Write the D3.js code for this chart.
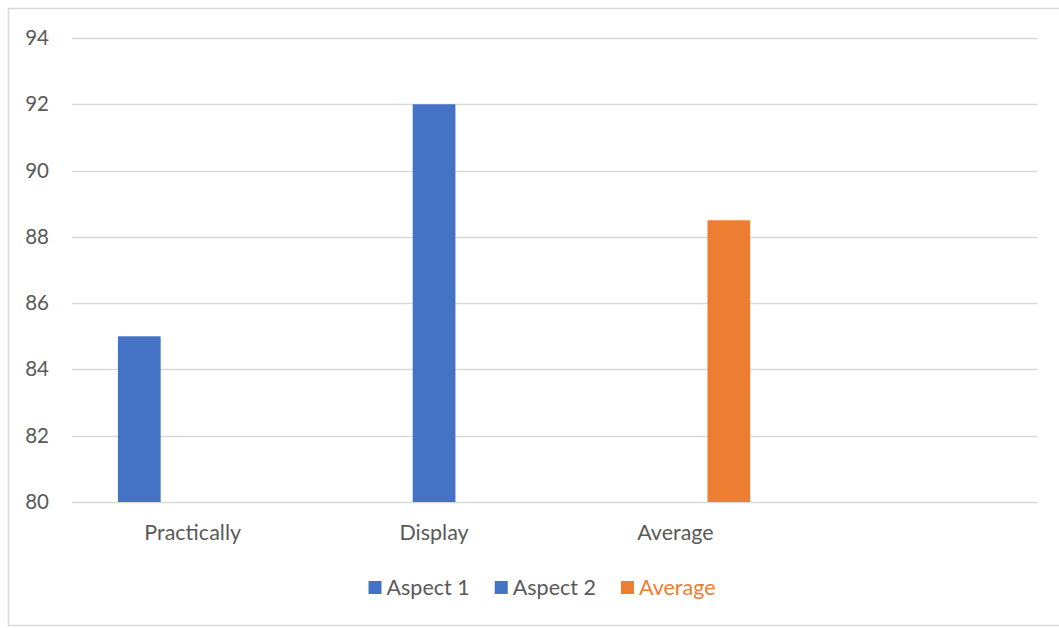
<!DOCTYPE html>
<html>
<head>
<meta charset="utf-8">
<script src="https://cdn.jsdelivr.net/npm/d3@7"></script>
<style>
  html, body { margin: 0; padding: 0; background: #ffffff; }
  svg { display: block; }
  text { font-family: Lato, "Open Sans", sans-serif; }
</style>
</head>
<body>
<svg id="chart" width="1059" height="628"></svg>
<script>
// Categories on the x axis (the last slot is an empty category)
const categories = ["Practically", "Display", "Average", ""];
// Series values, one per category (null = no bar)
const aspect1 = [85, null, null, null];
const aspect2 = [null, 92, null, null];
const average = [null, null, 88.5, null];
const seriesNames = ["Aspect 1", "Aspect 2", "Average"];
const seriesColors = ["#4472C4", "#4472C4", "#ED7D31"];
const legendTextColors = ["#595959", "#595959", "#ED7D31"];
const yTicks = [80, 82, 84, 86, 88, 90, 92, 94];

const series = [aspect1, aspect2, average];

const svg = d3.select("#chart");
const W = 1059, H = 628;
const plot = { left: 72, right: 1037.5, top: 38, bottom: 502 };
const labelSize = "21.5px";

// Chart area frame
svg.append("rect")
  .attr("x", 8.5).attr("y", 8.5)
  .attr("width", W + 10).attr("height", 617)
  .attr("fill", "#ffffff")
  .attr("stroke", "#D9D9D9").attr("stroke-width", 1.5);

const x0 = d3.scaleBand()
  .domain(categories.map((c, i) => i))
  .range([plot.left, plot.right])
  .paddingInner(0).paddingOuter(0);

const y = d3.scaleLinear()
  .domain([80, 94])
  .range([plot.bottom, plot.top]);

// Gridlines
svg.append("g")
  .selectAll("line")
  .data(yTicks)
  .join("line")
  .attr("x1", plot.left).attr("x2", plot.right)
  .attr("y1", d => Math.round(y(d)) + 0.5)
  .attr("y2", d => Math.round(y(d)) + 0.5)
  .attr("stroke", "#D9D9D9").attr("stroke-width", 1.3);

// Y axis labels
const yAxis = d3.axisLeft(y).tickValues(yTicks).tickSize(0).tickPadding(0);
const yg = svg.append("g")
  .attr("transform", `translate(${49},0)`)
  .call(yAxis);
yg.select(".domain").remove();
yg.selectAll("text")
  .attr("fill", "#595959")
  .attr("font-size", "20.5px")
  .attr("font-family", "Lato, 'Open Sans', sans-serif");

// Clustered bar layout: gap width and negative overlap between series
const n = series.length;
const gapWidth = 2.15, overlap = -0.25;
const step = x0.bandwidth();
const bw = step / (n + (n - 1) * (-overlap) + gapWidth);
const x1 = i => gapWidth * bw / 2 + i * bw * (1 - overlap);

const bars = [];
series.forEach((vals, si) => {
  vals.forEach((v, ci) => {
    if (v != null) bars.push({ si, ci, v });
  });
});

svg.append("g")
  .selectAll("rect")
  .data(bars)
  .join("rect")
  .attr("x", d => x0(d.ci) + x1(d.si))
  .attr("width", bw)
  .attr("y", d => y(d.v))
  .attr("height", d => y(80) - y(d.v))
  .attr("fill", d => seriesColors[d.si]);

// Category labels
const xAxis = d3.axisBottom(x0).tickSize(0).tickPadding(0)
  .tickFormat(i => categories[i]);
const xg = svg.append("g")
  .attr("transform", `translate(0,${plot.bottom + 23})`)
  .call(xAxis);
xg.select(".domain").remove();
xg.selectAll("text")
  .attr("fill", "#595959")
  .attr("font-size", labelSize)
  .attr("font-family", "Lato, 'Open Sans', sans-serif");

// Legend
const legend = svg.append("g");
const items = legend.selectAll("g")
  .data(seriesNames)
  .join("g");
items.append("rect")
  .attr("width", 13).attr("height", 13)
  .attr("y", 581)
  .attr("fill", (d, i) => seriesColors[i]);
items.append("text")
  .attr("x", 18)
  .attr("y", 594.5)
  .attr("font-size", labelSize)
  .attr("fill", (d, i) => legendTextColors[i])
  .text(d => d);

let cursor = 0;
const offsets = [];
items.each(function () {
  offsets.push(cursor);
  const tw = d3.select(this).select("text").node().getComputedTextLength();
  cursor += 18 + tw + 25;
});
const total = cursor - 25;
const start = 542 - total / 2;
items.attr("transform", (d, i) => `translate(${start + offsets[i]},0)`);
</script>
</body>
</html>
